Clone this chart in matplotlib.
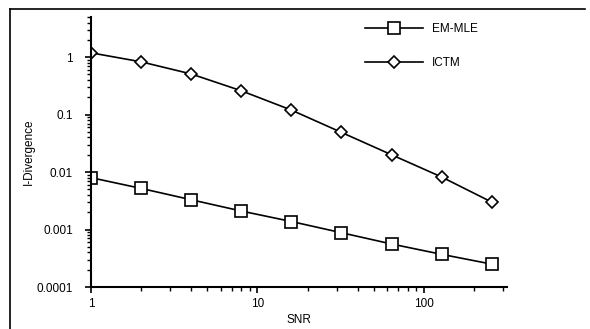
import matplotlib.pyplot as plt
from matplotlib.lines import Line2D
from matplotlib.ticker import LogLocator, NullFormatter, FixedLocator, FixedFormatter

plt.rcParams['font.family'] = ['Liberation Sans', 'DejaVu Sans']

# donnees
snr = [1, 2, 4, 8, 16, 32, 64, 128, 256]
em_mle = [0.008, 0.0052, 0.0033, 0.0021, 0.00138, 0.00088, 0.00056, 0.00037, 0.00025]
ictm = [1.19, 0.83, 0.51, 0.26, 0.12, 0.049, 0.020, 0.0082, 0.0030]

x_ticks = [1, 10, 100]
x_labels = ["1", "10", "100"]
y_ticks = [0.0001, 0.001, 0.01, 0.1, 1]
y_labels = ["0.0001", "0.001", "0.01", "0.1", "1"]

W, H = 590, 329
fig = plt.figure(figsize=(5.9, 3.29), dpi=100)
ax = fig.add_axes([91 / W, 1 - 287 / H, (507 - 91) / W, (287 - 17) / H])

ax.plot(snr, em_mle, '-s', color='black', lw=1.2, ms=8,
        markerfacecolor='white', markeredgewidth=1.2, label="EM-MLE")
ax.plot(snr, ictm, '-D', color='black', lw=1.2, ms=6,
        markerfacecolor='white', markeredgewidth=1.2, label="ICTM")

ax.set_xscale('log')
ax.set_yscale('log')
ax.set_xlim(1, 316)
ax.set_ylim(0.0001, 5)

ax.xaxis.set_major_locator(FixedLocator(x_ticks))
ax.xaxis.set_major_formatter(FixedFormatter(x_labels))
ax.yaxis.set_major_locator(FixedLocator(y_ticks))
ax.yaxis.set_major_formatter(FixedFormatter(y_labels))
ax.xaxis.set_minor_locator(LogLocator(base=10, subs=range(2, 10)))
ax.yaxis.set_minor_locator(LogLocator(base=10, subs=range(2, 10)))
ax.xaxis.set_minor_formatter(NullFormatter())
ax.yaxis.set_minor_formatter(NullFormatter())
ax.tick_params(which='major', direction='out', length=4, width=1.2, labelsize=8.5)
ax.tick_params(axis='y', which='major', pad=9)
ax.tick_params(axis='x', which='major', pad=4)
ax.tick_params(which='minor', direction='out', length=3, width=1)

for s in ['top', 'right']:
    ax.spines[s].set_visible(False)
for s in ['left', 'bottom']:
    ax.spines[s].set_linewidth(1.5)

ax.set_xlabel("SNR", fontsize=8.5, labelpad=3)
ax.set_ylabel("I-Divergence", fontsize=8.5, labelpad=1)

ax.legend(loc='upper left', bbox_to_anchor=(365 / W, 1 - 23 / H),
          bbox_transform=fig.transFigure, frameon=False, borderpad=0,
          borderaxespad=0, fontsize=8.5, handlelength=4.9,
          handletextpad=0.8, labelspacing=1.9)

# cadre du scan
fig.add_artist(Line2D([10 / W, 585 / W], [1 - 9 / H, 1 - 9 / H], color='black', lw=1.2))
fig.add_artist(Line2D([10 / W, 10 / W], [1 - 9 / H, 0], color='black', lw=1.2))

fig.savefig("out.png", dpi=100)
